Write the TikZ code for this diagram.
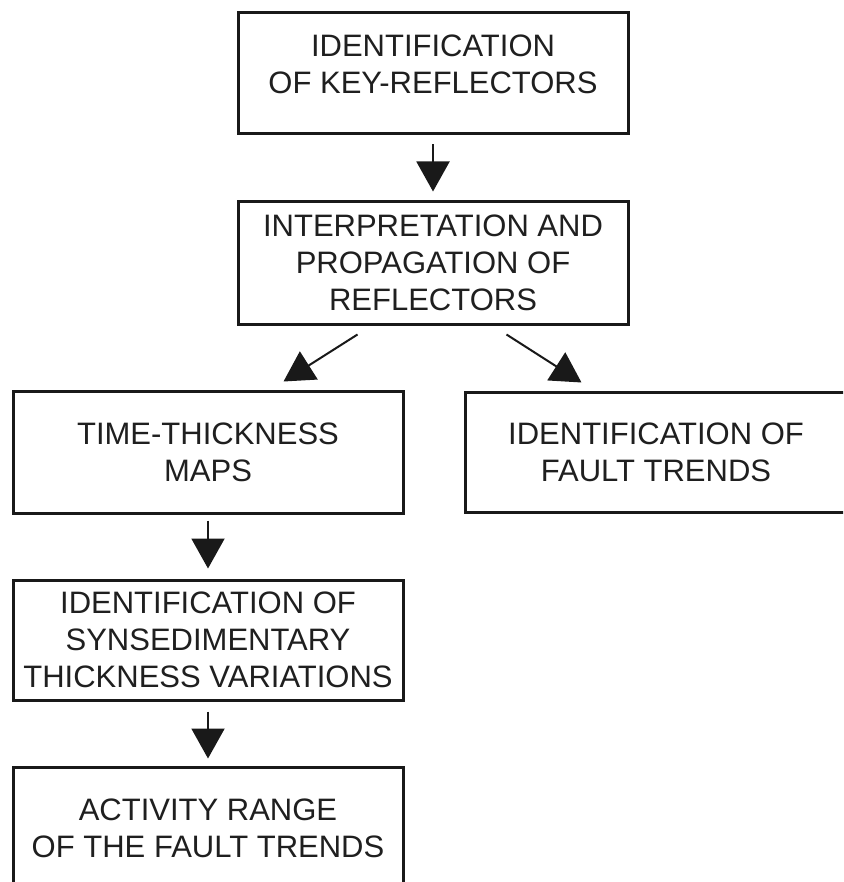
\documentclass[tikz,border=0pt]{standalone}
\usepackage{fontspec}
\setmainfont{Liberation Sans}
\usetikzlibrary{arrows.meta,calc}
\begin{document}
\begin{tikzpicture}[x=1pt,y=-1pt,
  stepbox/.style={draw=black!90,line width=3pt,inner sep=0pt,align=center,
    font=\fontsize{31}{37}\selectfont,text=black!88},
  flow/.style={draw=black!90,line width=2pt,-{Triangle[width=33pt,length=30pt]}}]
\clip (0,0) rectangle (843,882);
\fill[white] (0,0) rectangle (843,882);
\useasboundingbox (0,0) rectangle (843,882);
\node[stepbox,minimum width=390pt,minimum height=121pt] (b1) at (433,73.5)
  {IDENTIFICATION\\OF KEY-REFLECTORS\\[-19pt]\mbox{}};
\node[stepbox,minimum width=390pt,minimum height=122pt] (b2) at (433,263)
  {INTERPRETATION AND\\PROPAGATION OF\\REFLECTORS};
\node[stepbox,minimum width=390pt,minimum height=122pt] (b3) at (208,452)
  {TIME-THICKNESS\\MAPS};
\node[stepbox,minimum width=382pt,minimum height=120pt] (b4) at (656,452)
  {IDENTIFICATION OF\\FAULT TRENDS};
\node[stepbox,minimum width=390pt,minimum height=120pt] (b5) at (208,640)
  {IDENTIFICATION OF\\SYNSEDIMENTARY\\THICKNESS VARIATIONS};
\node[stepbox,minimum width=390pt,minimum height=123pt] (b6) at (208,828.5)
  {ACTIVITY RANGE\\OF THE FAULT TRENDS};
\draw[flow,shorten <=9pt,shorten >=9pt] (b1.south) -- (b2.north);
\draw[flow] ($(b2.south west)+(121,9)$) -- ($(b3.north west)+(272,-8)$);
\draw[flow] ($(b2.south west)+(270,9)$) -- ($(b4.north west)+(118,-8)$);
\draw[flow,shorten <=6pt,shorten >=10pt] (b3.south) -- (b5.north);
\draw[flow,shorten <=10pt,shorten >=7pt] (b5.south) -- (b6.north);
\end{tikzpicture}
\end{document}
